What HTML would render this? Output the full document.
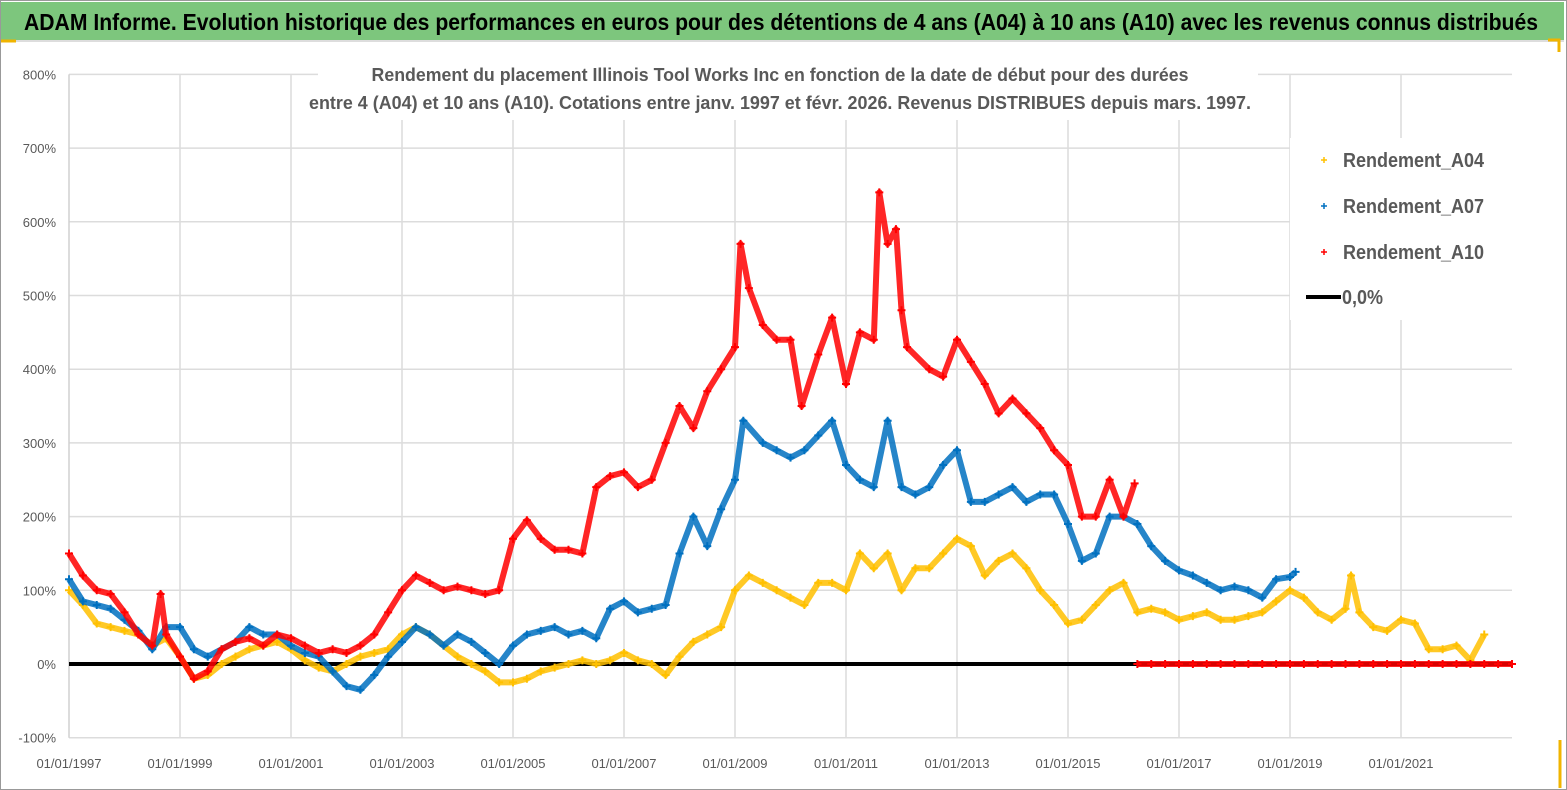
<!DOCTYPE html>
<html><head><meta charset="utf-8"><style>
html,body{margin:0;padding:0;background:#fff;}
body{width:1567px;height:790px;overflow:hidden;position:relative;font-family:"Liberation Sans",sans-serif;}
#bar{position:absolute;left:1px;top:2px;width:1563px;height:38px;background:#7dc67d;border-bottom:2px solid #ddd;}
#frame{position:absolute;left:0;top:0;width:1565px;height:788px;border:1px solid #999;pointer-events:none;}
svg{position:absolute;left:0;top:0;}
</style></head><body>
<div id="frame"></div>
<div id="bar"></div>
<svg id="chart" width="1567" height="790">
<text x="24" y="30" font-size="23" font-weight="bold" fill="#000" font-family="Liberation Sans, sans-serif" textLength="1514" lengthAdjust="spacingAndGlyphs">ADAM Informe. Evolution historique des performances en euros pour des détentions de 4 ans (A04) à 10 ans (A10) avec les revenus connus distribués</text>
</svg>
<script>
const yTicks=[800,700,600,500,400,300,200,100,0,-100];
const xTickYears=[1997,1999,2001,2003,2005,2007,2009,2011,2013,2015,2017,2019,2021];
const xTickLabels=["01/01/1997","01/01/1999","01/01/2001","01/01/2003","01/01/2005","01/01/2007","01/01/2009","01/01/2011","01/01/2013","01/01/2015","01/01/2017","01/01/2019","01/01/2021"];
const a10Years=[1997,1997.25,1997.5,1997.75,1998,1998.25,1998.5,1998.65,1998.75,1999,1999.25,1999.5,1999.75,2000,2000.25,2000.5,2000.75,2001,2001.25,2001.5,2001.75,2002,2002.25,2002.5,2002.75,2003,2003.25,2003.5,2003.75,2004,2004.25,2004.5,2004.75,2005,2005.25,2005.5,2005.75,2006,2006.25,2006.5,2006.75,2007,2007.25,2007.5,2007.75,2008,2008.25,2008.5,2008.75,2009,2009.1,2009.25,2009.5,2009.75,2010,2010.2,2010.5,2010.75,2011,2011.25,2011.5,2011.6,2011.75,2011.9,2012,2012.1,2012.5,2012.75,2013,2013.25,2013.5,2013.75,2014,2014.25,2014.5,2014.75,2015,2015.25,2015.5,2015.75,2016,2016.2,2016.25,2016.5,2016.75,2017,2017.25,2017.5,2017.75,2018,2018.25,2018.5,2018.75,2019,2019.25,2019.5,2019.75,2020,2020.25,2020.5,2020.75,2021,2021.25,2021.5,2021.75,2022,2022.25,2022.5,2022.75,2023];
const a10Values=[150,120,100,95,70,40,25,95,40,10,-20,-10,20,30,35,25,40,35,25,15,20,15,25,40,70,100,120,110,100,105,100,95,100,170,195,170,155,155,150,240,255,260,240,250,300,350,320,370,400,430,570,510,460,440,440,350,420,470,380,450,440,640,570,590,480,430,400,390,440,410,380,340,360,340,320,290,270,200,200,250,200,245,0,0,0,0,0,0,0,0,0,0,0,0,0,0,0,0,0,0,0,0,0,0,0,0,0,0,0,0];
const a07Years=[1997,1997.25,1997.5,1997.75,1998,1998.25,1998.5,1998.75,1999,1999.25,1999.5,1999.75,2000,2000.25,2000.5,2000.75,2001,2001.25,2001.5,2001.75,2002,2002.25,2002.5,2002.75,2003,2003.25,2003.5,2003.75,2004,2004.25,2004.5,2004.75,2005,2005.25,2005.5,2005.75,2006,2006.25,2006.5,2006.75,2007,2007.25,2007.5,2007.75,2008,2008.25,2008.5,2008.75,2009,2009.15,2009.5,2009.75,2010,2010.25,2010.5,2010.75,2011,2011.25,2011.5,2011.75,2012,2012.25,2012.5,2012.75,2013,2013.25,2013.5,2013.75,2014,2014.25,2014.5,2014.75,2015,2015.25,2015.5,2015.75,2016,2016.25,2016.5,2016.75,2017,2017.25,2017.5,2017.75,2018,2018.25,2018.5,2018.75,2019,2019.1];
const a07Values=[115,85,80,75,60,45,20,50,50,20,10,20,30,50,40,40,25,15,10,-10,-30,-35,-15,10,30,50,40,25,40,30,15,0,25,40,45,50,40,45,35,75,85,70,75,80,150,200,160,210,250,330,300,290,280,290,310,330,270,250,240,330,240,230,240,270,290,220,220,230,240,220,230,230,190,140,150,200,200,190,160,140,127,120,110,100,105,100,90,115,118,125];
const a04Years=[1997,1997.25,1997.5,1997.75,1998,1998.25,1998.5,1998.75,1999,1999.25,1999.5,1999.75,2000,2000.25,2000.5,2000.75,2001,2001.25,2001.5,2001.75,2002,2002.25,2002.5,2002.75,2003,2003.25,2003.5,2003.75,2004,2004.25,2004.5,2004.75,2005,2005.25,2005.5,2005.75,2006,2006.25,2006.5,2006.75,2007,2007.25,2007.5,2007.75,2008,2008.25,2008.5,2008.75,2009,2009.25,2009.5,2009.75,2010,2010.25,2010.5,2010.75,2011,2011.25,2011.5,2011.75,2012,2012.25,2012.5,2012.75,2013,2013.25,2013.5,2013.75,2014,2014.25,2014.5,2014.75,2015,2015.25,2015.5,2015.75,2016,2016.25,2016.5,2016.75,2017,2017.25,2017.5,2017.75,2018,2018.25,2018.5,2018.75,2019,2019.25,2019.5,2019.75,2020,2020.1,2020.25,2020.5,2020.75,2021,2021.25,2021.5,2021.75,2022,2022.25,2022.5];
const a04Values=[100,80,55,50,45,40,25,35,10,-20,-15,0,10,20,25,30,20,5,-5,-10,0,10,15,20,40,50,40,25,10,0,-10,-25,-25,-20,-10,-5,0,5,0,5,15,5,0,-15,10,30,40,50,100,120,110,100,90,80,110,110,100,150,130,150,100,130,130,150,170,160,120,140,150,130,100,80,55,60,80,100,110,70,75,70,60,65,70,60,60,65,70,85,100,90,70,60,75,120,70,50,45,60,55,20,20,25,5,40];

const svg=document.getElementById('chart');
const NS='http://www.w3.org/2000/svg';
const X0=69,X1=1512,Y0=664;
function xs(yr){return X0+(yr-1997)*55.5;}
function ys(v){return Y0-v*0.737;}
function mk(tag,attrs,parent){const e=document.createElementNS(NS,tag);for(const k in attrs)e.setAttribute(k,attrs[k]);(parent||svg).appendChild(e);return e;}
const FONT='Liberation Sans, sans-serif';

const grid=mk('g',{});


yTicks.forEach(v=>{
  const l=mk('line',{x1:X0,x2:X1,y1:ys(v),y2:ys(v),stroke:v===0?'#c8c8c8':'#dcdcdc','stroke-width':v===0?2:1.5},grid);
  
  
  const t=mk('text',{x:56,y:ys(v)+5,'text-anchor':'end','font-size':13,fill:'#595959','font-family':FONT});
  t.textContent=v+'%';
  
  
});
mk('line',{x1:X0,x2:X0,y1:ys(800),y2:ys(-100),stroke:'#d0d0d0','stroke-width':1.5},grid);
xTickYears.forEach((yr,i)=>{
  const x=xs(yr);
  if(i>0){const l=mk('line',{x1:x,x2:x,y1:ys(800),y2:ys(-100),stroke:'#dcdcdc','stroke-width':1.5},grid);
  
  }
  const t=mk('text',{x:Math.max(x,46),y:768,'text-anchor':'middle','font-size':13,fill:'#595959','font-family':FONT});
  t.textContent=xTickLabels[i];
  
  
});

const zl=mk('line',{x1:X0,x2:X1,y1:ys(0),y2:ys(0),stroke:'#000','stroke-width':4});



function series(years,vals,color,name){
  const g=mk('g',{});
  
  
  let segs=[[]];
  years.forEach((y,i)=>{
    if(i>0 && vals[i]===0 && Math.abs(vals[i-1])>60) segs.push([]);
    segs[segs.length-1].push(xs(y).toFixed(1)+','+ys(vals[i]).toFixed(1));
  });
  segs.forEach(s=>mk('polyline',{points:s.join(' '),fill:'none',stroke:color,'stroke-width':6,'stroke-linejoin':'round','stroke-opacity':0.85},g));
  years.forEach((y,i)=>{
    const x=xs(y),yy=ys(vals[i]);
    const p=mk('path',{d:`M${x-4},${yy}h8M${x},${yy-4}v8`,stroke:color,'stroke-width':2},g);
    
    
  });
}
series(a04Years,a04Values,'#ffc000','series-a04');
series(a07Years,a07Values,'#0070c0','series-a07');
series(a10Years,a10Values,'#ff0000','series-a10');

const tb=mk('rect',{x:318,y:58,width:940,height:62,fill:'#fff'});


[["Rendement du placement Illinois Tool Works Inc en fonction de la date de début pour des durées",81,817],["entre 4 (A04) et 10 ans (A10).  Cotations entre janv. 1997 et févr. 2026. Revenus DISTRIBUES depuis mars. 1997.",109,942]].forEach(([s,y,w])=>{
  const t=mk('text',{x:780,y:y,'text-anchor':'middle','font-size':18,'font-weight':'bold',fill:'#595959','font-family':FONT,textLength:w,lengthAdjust:'spacingAndGlyphs'});
  t.textContent=s;
  
  
});

const lg=mk('g',{});


mk('rect',{x:1290,y:138,width:226,height:182,fill:'#fff'},lg);
[["Rendement_A04",'#ffc000',160],["Rendement_A07",'#0070c0',206],["Rendement_A10",'#ff0000',252]].forEach(([s,c,y])=>{
  const e=mk('g',{},lg);
  
  
  mk('path',{d:`M1321,${y}h6M1324,${y-3}v6`,stroke:c,'stroke-width':1.5},e);
  const t=mk('text',{x:1343,y:y+7,'font-size':20,'font-weight':'bold',fill:'#595959','font-family':FONT,textLength:141,lengthAdjust:'spacingAndGlyphs'},e);
  t.textContent=s;
});
const e4=mk('g',{},lg);


mk('line',{x1:1306,x2:1341,y1:297,y2:297,stroke:'#000','stroke-width':4},e4);
const t4=mk('text',{x:1342,y:304,'font-size':20,'font-weight':'bold',fill:'#595959','font-family':FONT,textLength:41,lengthAdjust:'spacingAndGlyphs'},e4);
t4.textContent='0,0%';

mk('path',{d:'M1,41h15',stroke:'#f0b400','stroke-width':3});
mk('path',{d:'M1548,40h11v12',stroke:'#f0b400','stroke-width':3,fill:'none'});
mk('path',{d:'M1560,740v48',stroke:'#f0b400','stroke-width':3,fill:'none'});
</script>
</body></html>
